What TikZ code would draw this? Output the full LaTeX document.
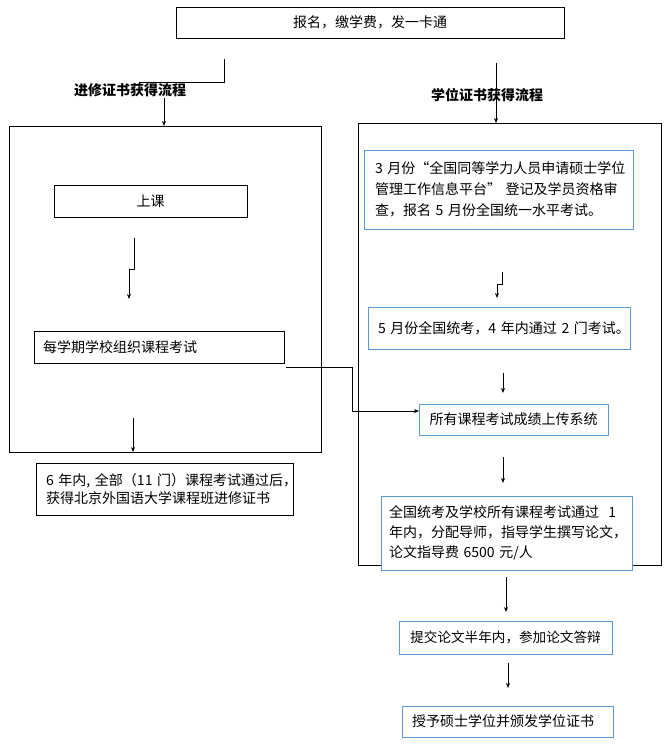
\documentclass[tikz,border=0pt]{standalone}
\usepackage{fontspec}
\setmainfont{Noto Sans CJK SC}
\usetikzlibrary{arrows.meta}
\definecolor{bluec}{RGB}{91,155,213}
\begin{document}
\begin{tikzpicture}[x=1pt,y=-1pt,
  every node/.style={font=\fontsize{14}{20}\selectfont, inner sep=0pt, outer sep=0pt},
  blk/.style={draw=black, line width=0.9pt, anchor=north west, fill=white},
  blu/.style={draw=bluec, line width=1pt, anchor=north west, fill=white},
  frame/.style={draw=black, line width=0.9pt, anchor=north west},
  head/.style={font=\fontsize{14}{16}\selectfont\bfseries},
  arr/.style={-{Stealth[length=5pt,width=4pt]}, line width=0.8pt},
  ln/.style={line width=0.8pt}]
\useasboundingbox (0,0) rectangle (670,744);

% frames
\node[frame, minimum width=312, minimum height=326] (lf) at (9,126) {};
\node[frame, minimum width=303, minimum height=442] (rf) at (358,123) {};

% top
\node[blk, minimum width=388, minimum height=31] (top) at (176,7) {报名，缴学费，发一卡通};

% headings
\node[head] (lh) at (130,90) {进修证书获得流程};
\node[head] (rh) at (487,95) {学位证书获得流程};

% left column
\node[blk, minimum width=193, minimum height=32] (sk) at (54,185) {上课};
\node[blk, minimum width=250, minimum height=32, text width=232, inner xsep=9, align=left] (ex) at (34,331) {每学期学校组织课程考试};
\node[blk, minimum width=257, minimum height=52, text width=237, inner xsep=10, align=left, font=\fontsize{14}{18}\selectfont] (ce) at (36,463)
  {\mbox{6 年内, 全部（11 门）课程考试通过后，}\\\mbox{获得北京外国语大学课程班进修证书}};

% right column
\node[blu, minimum width=269, minimum height=79, text width=247, inner xsep=11, align=left, font=\fontsize{14}{21}\selectfont] (b1) at (364,150)
  {\mbox{3 月份“全国同等学力人员申请硕士学位}\\\mbox{管理工作信息平台” 登记及学员资格审}\\\mbox{查，报名 5 月份全国统一水平考试。}};
\node[blu, minimum width=262, minimum height=42, text width=242, inner xsep=10, align=left] (b2) at (368,307)
  {\mbox{5 月份全国统考，4 年内通过 2 门考试。}};
\node[blu, minimum width=189, minimum height=31] (up) at (419,404) {所有课程考试成绩上传系统};
\node[blu, minimum width=251, minimum height=74, text width=235, inner xsep=8, align=left, font=\fontsize{14}{20}\selectfont] (b4) at (381,496)
  {\mbox{全国统考及学校所有课程考试通过\ \ 1}\\\mbox{年内，分配导师，指导学生撰写论文，}\\\mbox{论文指导费 6500 元/人}};
\node[blu, minimum width=213, minimum height=33, font=\fontsize{13.6}{20}\selectfont] (th) at (399,621) {提交论文半年内，参加论文答辩};
\node[blu, minimum width=211, minimum height=31, text width=191, inner xsep=10, align=left] (aw) at (402,706) {授予硕士学位并颁发学位证书};

% connectors
\coordinate (c1a) at (224,59);
\coordinate (c1b) at (139,82);
\draw[ln] (c1a) |- (c1b);
\coordinate (c2a) at (164,98);
\draw[arr] (c2a) -- (c2a |- lf.north);
\coordinate (c3a) at (496,63);
\draw[arr] (c3a) -- (c3a |- rf.north);

\coordinate (c4a) at (134,238);
\coordinate (c4b) at (129,269);
\coordinate (c4c) at (129,299);
\draw[arr] (c4a) |- (c4b) -- (c4c);

\coordinate (c5a) at (286,367);
\coordinate (c5b) at (352,411);
\draw[arr] (c5a) -| (c5b) -- (c5b -| up.west);

\coordinate (c6a) at (133,418);
\draw[arr] (c6a) -- (c6a |- lf.south);

\coordinate (c7a) at (502,272);
\coordinate (c7b) at (497,284);
\coordinate (c7c) at (497,298);
\draw[arr] (c7a) |- (c7b) -- (c7c);

\coordinate (c8a) at (503,373);
\coordinate (c8b) at (503,393);
\draw[arr] (c8a) -- (c8b);

\coordinate (c9a) at (503,457);
\coordinate (c9b) at (503,483);
\draw[arr] (c9a) -- (c9b);

\coordinate (c10a) at (506,577);
\coordinate (c10b) at (506,612);
\draw[arr] (c10a) -- (c10b);

\coordinate (c11a) at (508,663);
\coordinate (c11b) at (508,688);
\draw[arr] (c11a) -- (c11b);
\end{tikzpicture}
\end{document}
